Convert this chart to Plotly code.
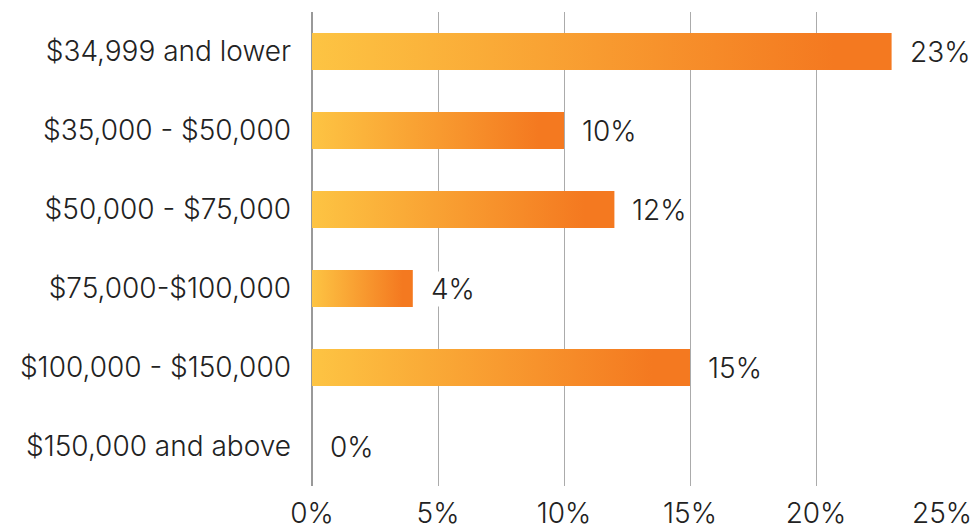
import plotly.graph_objects as go

# Household income brackets and share of respondents (%)
categories = [
    "$34,999 and lower",
    "$35,000 - $50,000",
    "$50,000 - $75,000",
    "$75,000-$100,000",
    "$100,000 - $150,000",
    "$150,000 and above",
]
shares = [23, 10, 12, 4, 15, 0]
x_ticks = [0, 5, 10, 15, 20, 25]
x_tick_labels = [f"{t}%" for t in x_ticks]

FONT = "Inter"
SIZE = 28
WEIGHT = 300
TEXT = "#222222"
YELLOW = "#FDC443"
ORANGE = "#F47920"
HALF = 0.235  # half bar thickness in category units

fig = go.Figure()

# Each bar is a filled rectangle so it can carry a horizontal gradient
for i, (cat, v) in enumerate(zip(categories, shares)):
    if v <= 0:
        continue
    fig.add_trace(go.Scatter(
        x=[0, v, v, 0, 0],
        y=[i - HALF, i - HALF, i + HALF, i + HALF, i - HALF],
        mode="lines",
        line=dict(width=0),
        fill="toself",
        fillgradient=dict(
            type="horizontal",
            colorscale=[[0, YELLOW], [0.9, ORANGE], [1, ORANGE]],
        ),
        hoverinfo="skip",
        showlegend=False,
        name=cat,
    ))

font = dict(family=FONT, size=SIZE, color=TEXT, weight=WEIGHT)

# Value labels just past the end of each bar
for i, v in enumerate(shares):
    fig.add_annotation(
        x=v, y=i, text=f"{v}%", showarrow=False,
        xanchor="left", yanchor="middle", xshift=17,
        font=font, bgcolor="white", borderpad=0,
    )

fig.update_layout(
    width=974, height=529,
    margin=dict(l=312, r=32, t=12, b=43),
    paper_bgcolor="white", plot_bgcolor="white",
    font=font,
    xaxis=dict(
        range=[0, 25], tickvals=x_ticks, ticktext=x_tick_labels,
        showgrid=True, gridcolor="#ababab", gridwidth=1,
        zeroline=True, zerolinecolor="#999999", zerolinewidth=2,
        showline=False, ticks="", ticklabelstandoff=8,
        automargin=False, tickfont=font,
    ),
    yaxis=dict(
        range=[5.5, -0.5], tickvals=list(range(len(categories))),
        ticktext=categories, showgrid=False, zeroline=False,
        showline=False, ticks="", ticklabelstandoff=20,
        automargin=False, tickfont=font,
    ),
)

fig.write_html("out.html")
